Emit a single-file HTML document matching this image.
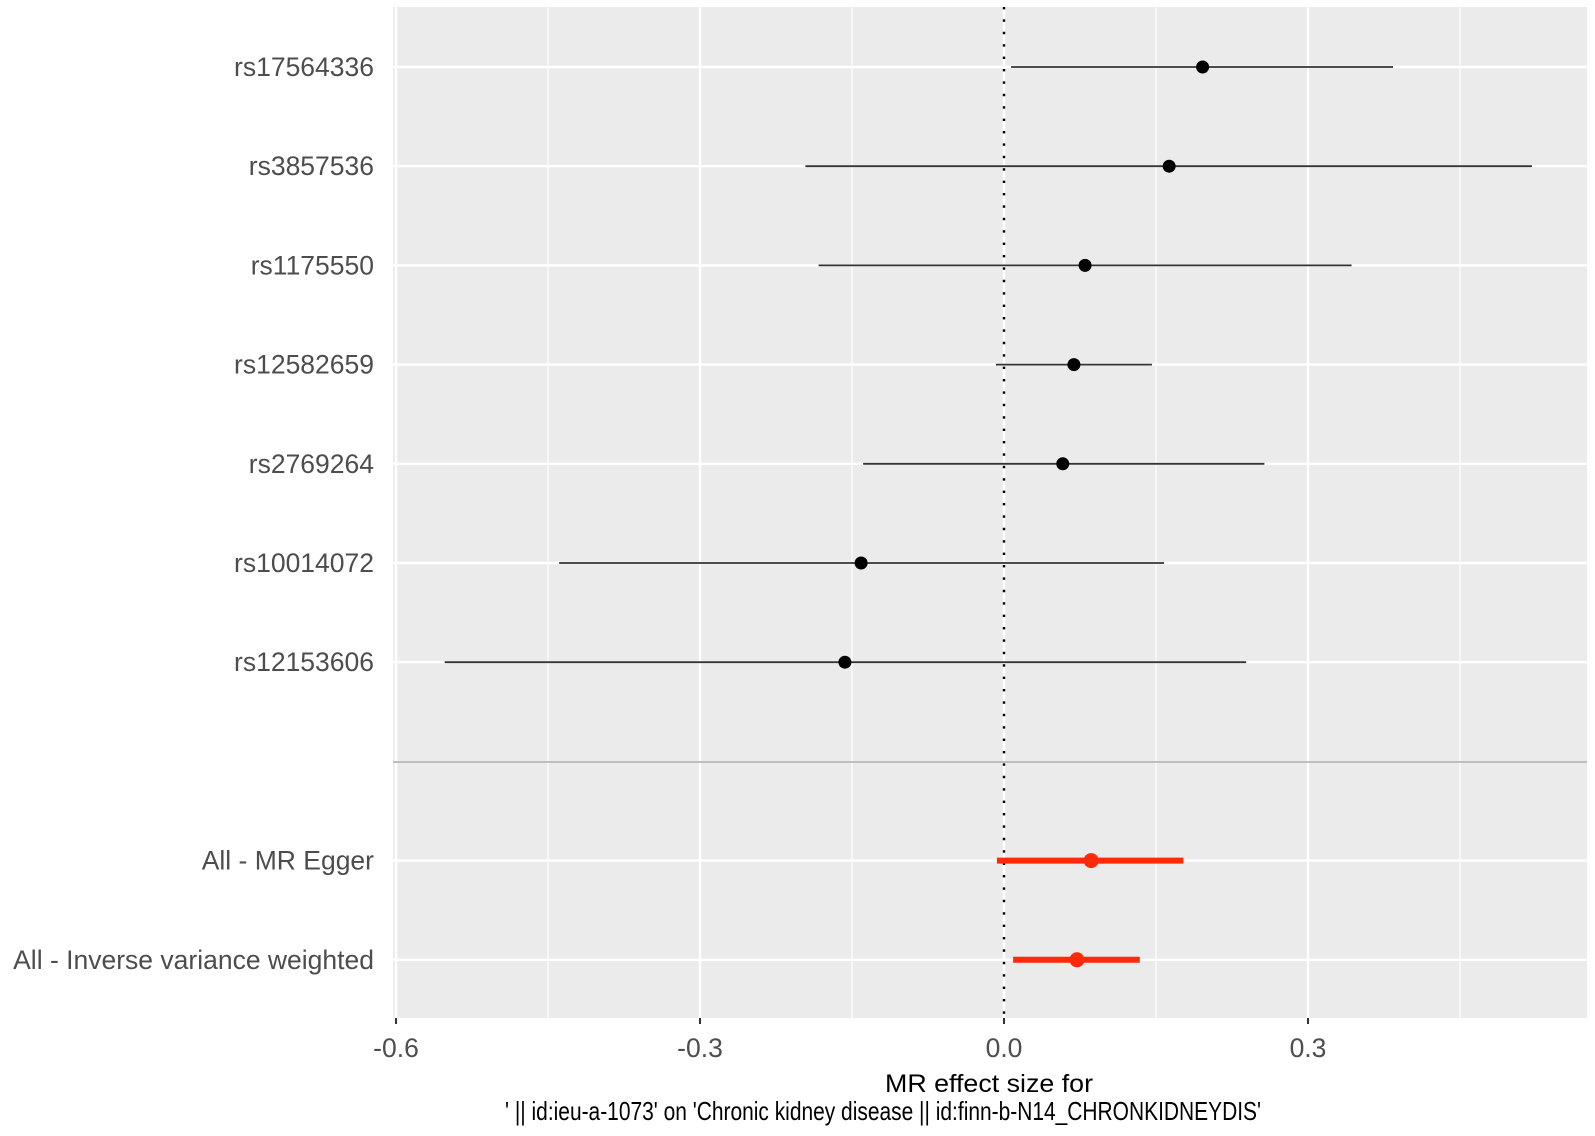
<!DOCTYPE html>
<html><head><meta charset="utf-8"><style>
html,body{margin:0;padding:0;background:#fff;}
svg{display:block;font-family:"Liberation Sans",Arial,sans-serif;}
</style></head><body>
<svg id="chart" width="1595" height="1136"></svg>
<script>
const labels=["rs17564336","rs3857536","rs1175550","rs12582659","rs2769264","rs10014072","rs12153606","All - MR Egger","All - Inverse variance weighted"];
const est=[0.196,0.163,0.080,0.069,0.058,-0.141,-0.157,0.086,0.072];
const lo=[0.007,-0.196,-0.183,-0.008,-0.139,-0.439,-0.552,-0.007,0.009];
const hi=[0.384,0.521,0.343,0.146,0.257,0.158,0.239,0.177,0.134];
const isSummary=[0,0,0,0,0,0,0,1,1];
const xTicks=[-0.6,-0.3,0.0,0.3];
const xTickLabels=["-0.6","-0.3","0.0","0.3"];
const xMinor=[-0.45,-0.15,0.15,0.45];

const NS="http://www.w3.org/2000/svg";
const svg=document.getElementById('chart');
const PL=393,PR=1587,PT=7,PB=1018;
const x=v=>1004+v*1013.3;
const slot=i=>i<7?i:i+1;
const y=i=>67+slot(i)*99.2;
function mk(t,a,p){const e=document.createElementNS(NS,t);for(const k in a)e.setAttribute(k,a[k]);(p||svg).appendChild(e);return e;}

const bg=mk('rect',{x:PL,y:PT,width:PR-PL,height:PB-PT,fill:'#ebebeb'});


xMinor.forEach(v=>{const l=mk('line',{x1:x(v),x2:x(v),y1:PT,y2:PB,stroke:'#fff','stroke-width':1.2});

});
xTicks.forEach(v=>{const l=mk('line',{x1:x(v),x2:x(v),y1:PT,y2:PB,stroke:'#fff','stroke-width':2.4});

});
labels.forEach((s,i)=>{const l=mk('line',{x1:PL,x2:PR,y1:y(i),y2:y(i),stroke:'#fff','stroke-width':2.4});

});
const sep=mk('line',{x1:PL,x2:PR,y1:762,y2:762,stroke:'#bebebe','stroke-width':2});


const zl=mk('line',{x1:x(0),x2:x(0),y1:PT,y2:PB,stroke:'#000','stroke-width':2.4,'stroke-dasharray':'2.4 10'});



labels.forEach((s,i)=>{
 const red=isSummary[i];
 const g=mk('g',{});
 
 
 mk('line',{x1:x(lo[i]),x2:x(hi[i]),y1:y(i),y2:y(i),stroke:red?'#ff2a0a':'#333','stroke-width':red?6:1.8},g);
 mk('circle',{cx:x(est[i]),cy:y(i),r:red?7.5:6.5,fill:red?'#ff2a0a':'#000'},g);
 const t=mk('text',{x:374,y:y(i)+9,'text-anchor':'end','font-size':26.5,fill:'#4d4d4d'});
 t.textContent=s;
 
 
});
xTicks.forEach((v,i)=>{
 const tk=mk('line',{x1:x(v),x2:x(v),y1:PB,y2:PB+6,stroke:'#333','stroke-width':2});
 
 
 const t=mk('text',{x:x(v),y:PB+39,'text-anchor':'middle','font-size':26.5,fill:'#4d4d4d'});
 t.textContent=xTickLabels[i];
 
 
});
const t1=mk('text',{x:989,y:1092,'text-anchor':'middle','font-size':25,fill:'#000',textLength:208,lengthAdjust:'spacingAndGlyphs'});
t1.textContent='MR effect size for';


const t2=mk('text',{x:883,y:1120,'text-anchor':'middle','font-size':26,fill:'#000',textLength:756,lengthAdjust:'spacingAndGlyphs'});
t2.textContent="' || id:ieu-a-1073' on 'Chronic kidney disease || id:finn-b-N14_CHRONKIDNEYDIS'";


</script>
</body></html>
